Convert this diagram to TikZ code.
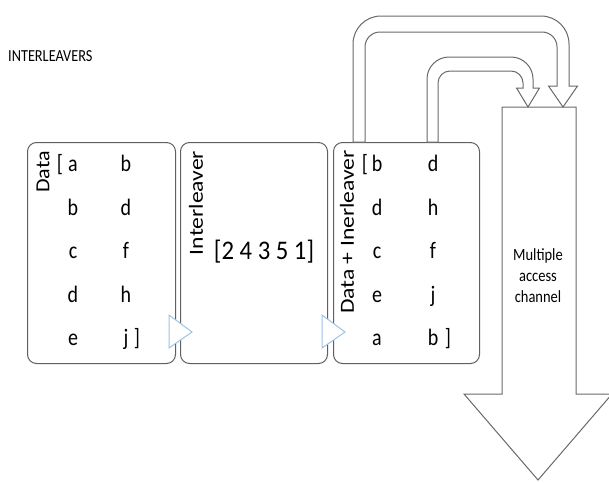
\documentclass[tikz,border=0pt]{standalone}
\usepackage{fontspec}
\setmainfont{Carlito}
\definecolor{boxgray}{RGB}{95,95,95}
\definecolor{arrgray}{RGB}{105,105,105}
\definecolor{triblue}{RGB}{157,195,230}
\newcommand{\vstretch}[1]{\scalebox{1}[1.18]{#1}}
\tikzset{
  panel/.style={draw=boxgray, line width=1pt, rounded corners=9pt, minimum width=#1, minimum height=221pt, inner sep=0pt, anchor=north west},
  letter/.style={font=\fontsize{20}{24}\selectfont, inner sep=0pt, anchor=base},
  vlabel/.style={font=\fontsize{20}{24}\selectfont, inner sep=0pt, rotate=90},
  blockarrow/.style={draw=arrgray, line width=1pt, fill=white, line join=miter},
  tri/.style={draw=triblue, line width=1pt, fill=white, line join=miter}
}
\begin{document}
\begin{tikzpicture}[x=1pt,y=-1pt]
\useasboundingbox (0,0) rectangle (609,482);
% title
\node[font=\fontsize{14.3}{16}\selectfont, anchor=west, inner sep=0pt] (title) at (8,56) {\vstretch{INTERLEAVERS}};
% panels
\node[panel=148pt] (data) at (27,142) {};
\node[panel=147pt] (intl) at (180,142) {};
\node[panel=146pt] (dint) at (333,142) {};
% big arrow
\draw[blockarrow] (502,107) -- (576,107) -- (576,394) -- (612,394) -- (538,480) -- (464,394) -- (502,394) -- cycle;
\node[font=\fontsize{14.5}{21}\selectfont, align=center, inner sep=0pt] (mac) at (538,276) {\vstretch{Multiple}\\\vstretch{access}\\\vstretch{channel}};
% bent arrows
\draw[blockarrow] (353,142) -- (353,44) .. controls (353,28.5) and (365.5,16) .. (381,16) -- (541,16) .. controls (556.5,16) and (569,28.5) .. (569,44) -- (569,86) -- (577.5,86) -- (563,107) -- (548.5,86) -- (557,86) -- (557,47) .. controls (557,38.7) and (550.3,32) .. (542,32) -- (380,32) .. controls (371.7,32) and (365,38.7) .. (365,47) -- (365,142) -- cycle;
\draw[blockarrow] (427,142) -- (427,79) .. controls (427,66.9) and (436.9,57) .. (449,57) -- (511,57) .. controls (523.1,57) and (533,66.9) .. (533,79) -- (533,88) -- (539.5,88) -- (528,107) -- (516.5,88) -- (523,88) -- (523,83) .. controls (523,76.4) and (517.6,71) .. (511,71) -- (450,71) .. controls (443.4,71) and (438,76.4) .. (438,83) -- (438,142) -- cycle;
% triangles
\draw[tri] (169,315) -- (192,332) -- (169,348) -- cycle;
\draw[tri] (322,315) -- (345,332) -- (322,348) -- cycle;
% vertical labels
\node[vlabel] (ldata) at (43,172) {\scalebox{1.1}[1]{Data}};
\node[vlabel] (lintl) at (196,203) {\scalebox{1.18}[1]{Interleaver}};
\node[vlabel] (ldint) at (347,232) {\scalebox{1.18}[1]{Data + Inerleaver}};
% interleaver vector
\node[font=\fontsize{24}{30}\selectfont, inner sep=0pt] (vec) at (264,252) {\scalebox{1.03}[1.12]{[2 4 3 5 1]}};
% data matrix
\node[letter] (dlb) at (60,171) {\vstretch{[}};
\node[letter] (d11) at (73,171) {\vstretch{a}};
\node[letter] (d12) at (126,171) {\vstretch{b}};
\node[letter] (d21) at (73,215) {\vstretch{b}};
\node[letter] (d22) at (126,215) {\vstretch{d}};
\node[letter] (d31) at (73,258) {\vstretch{c}};
\node[letter] (d32) at (126,258) {\vstretch{f}};
\node[letter] (d41) at (73,302) {\vstretch{d}};
\node[letter] (d42) at (126,302) {\vstretch{h}};
\node[letter] (d51) at (73,345) {\vstretch{e}};
\node[letter] (d52) at (126,345) {\vstretch{j}};
\node[letter] (drb) at (137,345) {\vstretch{]}};
% interleaved matrix
\node[letter] (ilb) at (365,171) {\vstretch{[}};
\node[letter] (i11) at (377,171) {\vstretch{b}};
\node[letter] (i12) at (433,171) {\vstretch{d}};
\node[letter] (i21) at (377,215) {\vstretch{d}};
\node[letter] (i22) at (433,215) {\vstretch{h}};
\node[letter] (i31) at (377,258) {\vstretch{c}};
\node[letter] (i32) at (433,258) {\vstretch{f}};
\node[letter] (i41) at (377,302) {\vstretch{e}};
\node[letter] (i42) at (433,302) {\vstretch{j}};
\node[letter] (i51) at (377,345) {\vstretch{a}};
\node[letter] (i52) at (433,345) {\vstretch{b}};
\node[letter] (irb) at (448,345) {\vstretch{]}};
\end{tikzpicture}
\end{document}
